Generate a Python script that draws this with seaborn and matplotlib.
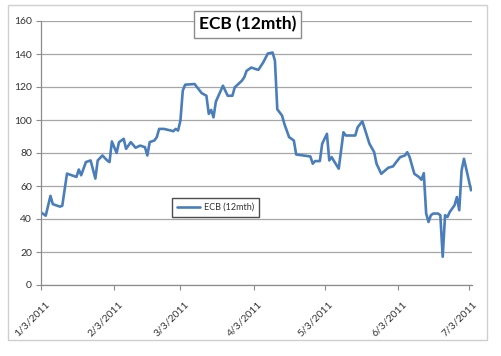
import matplotlib
matplotlib.use("Agg")
import matplotlib.pyplot as plt
import matplotlib.transforms as mtransforms
from matplotlib.patches import Rectangle
import seaborn as sns
import pandas as pd

series_name = "ECB (12mth)"
dates = [
    "2011-01-03", "2011-01-05", "2011-01-07", "2011-01-08", "2011-01-11", "2011-01-12",
    "2011-01-14", "2011-01-16", "2011-01-18", "2011-01-19", "2011-01-20", "2011-01-22",
    "2011-01-24", "2011-01-26", "2011-01-27", "2011-01-29", "2011-01-31", "2011-02-01",
    "2011-02-02", "2011-02-04", "2011-02-05", "2011-02-07", "2011-02-08", "2011-02-10",
    "2011-02-12", "2011-02-14", "2011-02-16", "2011-02-17", "2011-02-18", "2011-02-20",
    "2011-02-21", "2011-02-22", "2011-02-24", "2011-02-27", "2011-02-28", "2011-03-01",
    "2011-03-02", "2011-03-03", "2011-03-04", "2011-03-05", "2011-03-09", "2011-03-12",
    "2011-03-14", "2011-03-15", "2011-03-16", "2011-03-17", "2011-03-18", "2011-03-21",
    "2011-03-23", "2011-03-25", "2011-03-26", "2011-03-29", "2011-03-30", "2011-03-31",
    "2011-04-02", "2011-04-04", "2011-04-05", "2011-04-07", "2011-04-09", "2011-04-11",
    "2011-04-12", "2011-04-13", "2011-04-15", "2011-04-16", "2011-04-18", "2011-04-20",
    "2011-04-21", "2011-04-24", "2011-04-27", "2011-04-28", "2011-04-29", "2011-05-01",
    "2011-05-02", "2011-05-04", "2011-05-05", "2011-05-06", "2011-05-07", "2011-05-09",
    "2011-05-11", "2011-05-12", "2011-05-16", "2011-05-17", "2011-05-19", "2011-05-22",
    "2011-05-24", "2011-05-25", "2011-05-27", "2011-05-30", "2011-06-01", "2011-06-02",
    "2011-06-04", "2011-06-06", "2011-06-07", "2011-06-08", "2011-06-10", "2011-06-12",
    "2011-06-13", "2011-06-14", "2011-06-15", "2011-06-16", "2011-06-17", "2011-06-18",
    "2011-06-20", "2011-06-21", "2011-06-22", "2011-06-23", "2011-06-24", "2011-06-25",
    "2011-06-27", "2011-06-28", "2011-06-29", "2011-06-30", "2011-07-01", "2011-07-04",
]
values = [
    44, 42, 54, 49, 47.5, 48,
    67.5, 66.5, 65.5, 70, 66.5, 74.5,
    75.5, 64.5, 75.5, 78.5, 75.5, 74.5,
    87, 80, 86.5, 88.6, 82.5, 86.6,
    83.2, 84.5, 83.5, 78.5, 86.6, 87.6,
    89.6, 94.6, 94.6, 93.6, 93.2, 94.6,
    93.6, 99.6, 117.8, 121.4, 121.8, 116.3,
    114.7, 103.7, 106.1, 101.6, 111.1, 120.8,
    114.7, 114.7, 119.8, 123.8, 125.8, 129.8,
    131.8, 130.8, 130.4, 134.8, 140.3, 140.9,
    136, 106.5, 102.7, 97.6, 89.6, 87.6,
    79.1, 78.5, 77.9, 73.5, 75.1, 75.1,
    85.6, 91.6, 75.5, 77.5, 75.1, 70.5,
    92.6, 90.6, 90.6, 95.6, 99.2, 85.6,
    80.5, 73.5, 67.4, 71.1, 71.9, 73.9,
    77.5, 78.5, 80.5, 77.5, 67.4, 65.4,
    63.8, 67.8, 43.3, 38.2, 42.3, 43.3,
    43.3, 42.3, 17.1, 42.3, 41.2, 44.3,
    48.3, 53.3, 45.3, 69.4, 76.5, 57.4,
]
tick_dates = ["2011-01-03", "2011-02-03", "2011-03-03", "2011-04-03",
              "2011-05-03", "2011-06-03", "2011-07-03"]
tick_labels = ["1/3/2011", "2/3/2011", "3/3/2011", "4/3/2011",
               "5/3/2011", "6/3/2011", "7/3/2011"]
y_ticks = [0, 20, 40, 60, 80, 100, 120, 140, 160]

sns.set_theme(style="white")
plt.rcParams['font.family'] = ['Lato', 'DejaVu Sans']

df = pd.DataFrame({"date": pd.to_datetime(dates), "value": values,
                   "series": series_name})

W, H = 501, 356
fig = plt.figure(figsize=(W / 100, H / 100), dpi=100)
fig.patch.set_facecolor("white")
ax = fig.add_axes([41 / W, 1 - 285 / H, (472 - 41) / W, (285 - 21) / H])

sns.lineplot(data=df, x="date", y="value", hue="series",
             palette=["#4a7ebb"], linewidth=1.9, ax=ax)

start = pd.Timestamp("2011-01-03")
ax.set_xlim(start, start + pd.Timedelta(days=182.4))
ax.set_ylim(0, 160)
ax.set_xlabel("")
ax.set_ylabel("")
ax.yaxis.grid(True, color="#a6a6a6", linewidth=0.9)
ax.xaxis.grid(False)
ax.set_axisbelow(True)
for s in ["top", "right"]:
    ax.spines[s].set_visible(False)
for s in ["left", "bottom"]:
    ax.spines[s].set_color("#8c8c8c")
    ax.spines[s].set_linewidth(0.9)
ax.tick_params(axis="both", which="major", length=3.5, width=0.8,
               color="#8c8c8c", direction="out", pad=3)
ax.tick_params(axis="y", left=True)
ax.tick_params(axis="x", bottom=True)

ax.set_yticks(y_ticks)
ax.set_yticklabels([str(v) for v in y_ticks], fontsize=7.5, color="#333333")
ax.set_xticks(pd.to_datetime(tick_dates))
ax.set_xticklabels(tick_labels, fontsize=7.5, color="#333333",
                   rotation=45, ha="right", rotation_mode="anchor")
offset = mtransforms.ScaledTranslation(4 / 100, -6 / 100, fig.dpi_scale_trans)
for tick in ax.xaxis.get_major_ticks():
    tick.label1.set_transform(tick.label1.get_transform() + offset)

leg = ax.legend(loc="center", bbox_to_anchor=((174 + 257) / 2 / W, 1 - 207.5 / H),
                bbox_transform=fig.transFigure, frameon=True, fancybox=False,
                fontsize=6.5, handlelength=2.6, borderpad=0.5, handletextpad=0.4)
leg.get_frame().set_edgecolor("#202020")
leg.get_frame().set_linewidth(1.0)
for t in leg.get_texts():
    t.set_color("#333333")

fig.text(247.5 / W, 1 - 24.5 / H, "ECB (12mth)", ha="center", va="center",
         fontsize=12.5, fontweight="bold", color="black",
         bbox=dict(boxstyle="square,pad=0.3", fc="white", ec="#8c8c8c", lw=1.0))

fig.patches.append(Rectangle((8 / W, 1 - 340 / H), (487 - 8) / W, (340 - 5) / H,
                             transform=fig.transFigure, fill=False,
                             edgecolor="#cfcfcf", linewidth=1.0))

fig.savefig("out.png", dpi=100)
